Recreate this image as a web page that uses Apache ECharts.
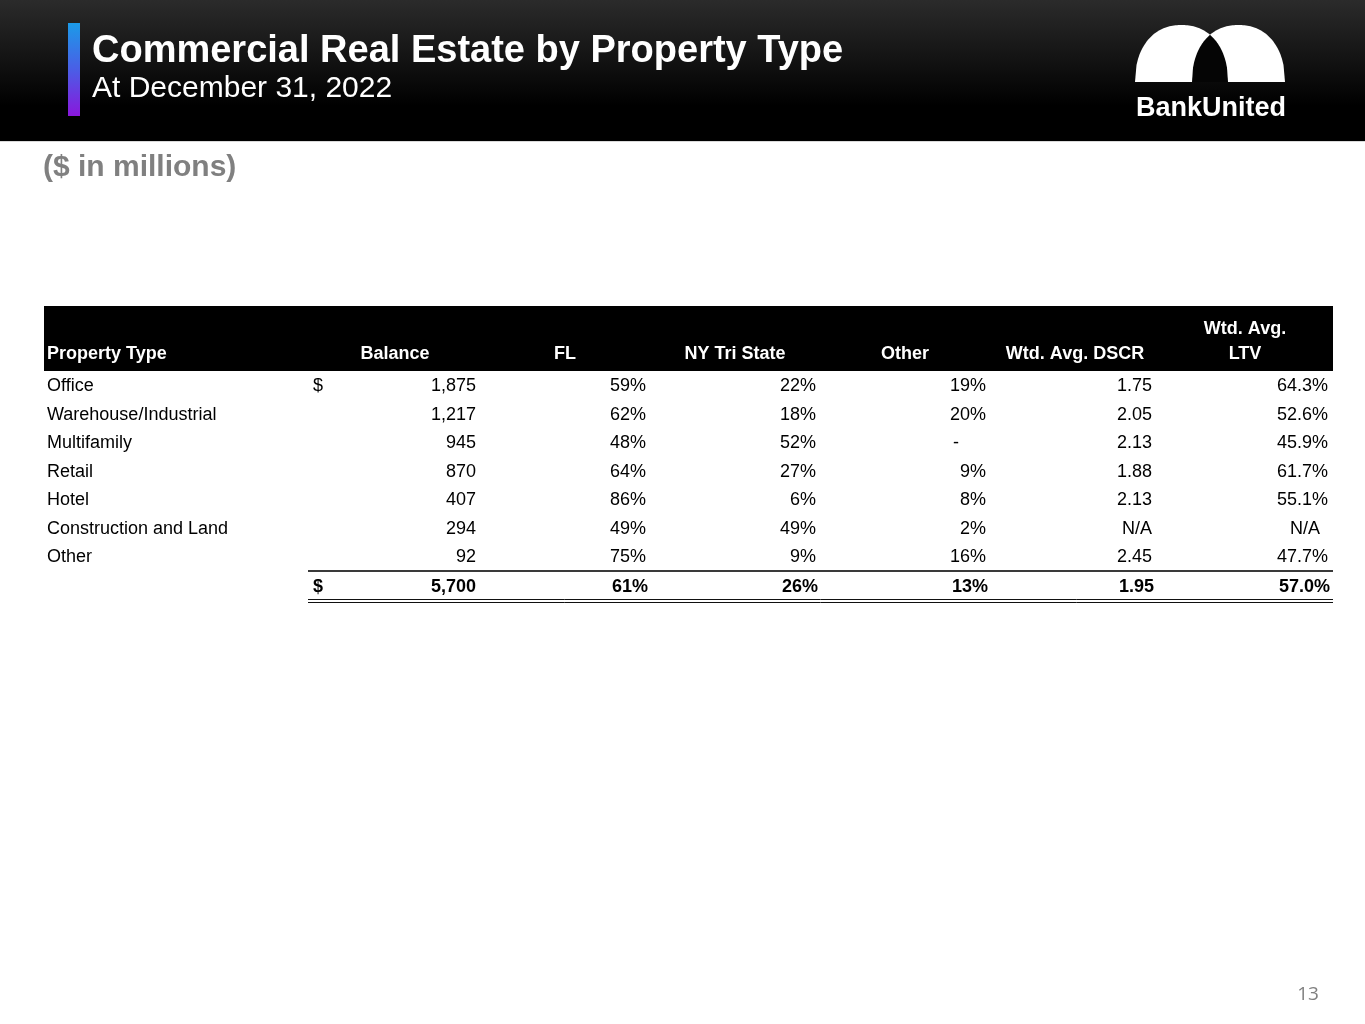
<!DOCTYPE html>
<html>
<head>
<meta charset="utf-8">
<title>Commercial Real Estate by Property Type</title>
<script src="https://cdn.jsdelivr.net/npm/echarts@6/dist/echarts.min.js"></script>
<style>
  html, body { margin: 0; padding: 0; background: #fff; }
  #container { width: 1365px; height: 1024px; }
</style>
</head>
<body>
<div id="container"></div>
<script>
// table data ($ in millions)
var propertyTypes = ['Office', 'Warehouse/Industrial', 'Multifamily', 'Retail', 'Hotel', 'Construction and Land', 'Other'];
var columnNames = ['Balance', 'FL', 'NY Tri State', 'Other', 'Wtd. Avg. DSCR', 'Wtd. Avg.\nLTV'];
var balance = [1875, 1217, 945, 870, 407, 294, 92];
var flPct = [59, 62, 48, 64, 86, 49, 75];
var nyPct = [22, 18, 52, 27, 6, 49, 9];
var otherPct = [19, 20, null, 9, 8, 2, 16];
var dscr = [1.75, 2.05, 2.13, 1.88, 2.13, null, 2.45];
var ltv = [64.3, 52.6, 45.9, 61.7, 55.1, null, 47.7];
var totals = [5700, 61, 26, 13, 1.95, 57.0];

var FONT = 'Liberation Sans, Arial, sans-serif';

function fmtMoney(v) { return v.toString().replace(/\B(?=(\d{3})+(?!\d))/g, ','); }
function fmtPct(v) { return v == null ? '-' : v + '%'; }
function fmtRatio(v) { return v == null ? 'N/A' : v.toFixed(2); }
function fmtLtv(v) { return v == null ? 'N/A' : v.toFixed(1) + '%'; }

// small right-edge nudges per column (accounting format spacing)
var colPad = [0, 0, 0, 0, 4, -2];

// build cells: [col, row]
var cells = [];
var columns = [
    {vals: balance, fmt: fmtMoney},
    {vals: flPct, fmt: fmtPct},
    {vals: nyPct, fmt: fmtPct},
    {vals: otherPct, fmt: fmtPct},
    {vals: dscr, fmt: fmtRatio},
    {vals: ltv, fmt: fmtLtv}
];
// property type names, left of the numeric columns
for (var p = 0; p < propertyTypes.length; p++) {
    cells.push({value: [0, p], text: propertyTypes[p], bold: false, name: true, dy: 1});
}
for (var c = 0; c < columns.length; c++) {
    for (var r = 0; r < propertyTypes.length; r++) {
        var v = columns[c].vals[r];
        var txt = columns[c].fmt(v);
        var pad = colPad[c];
        if (txt === '-') pad = 27;
        if (txt === 'N/A' && c === 5) pad = 6;
        cells.push({value: [c, r], text: txt, bold: false, pad: pad, dy: 1});
    }
}
var totalFmt = [fmtMoney, fmtPct, fmtPct, fmtPct, fmtRatio, fmtLtv];
for (var t = 0; t < totals.length; t++) {
    var tt = totals[t];
    var s = t === 5 ? tt.toFixed(1) + '%' : totalFmt[t](tt);
    cells.push({value: [t, propertyTypes.length], text: s, bold: true, pad: colPad[t] + (t === 0 ? 0 : -2), dy: 2});
}
// dollar signs
cells.push({value: [0, 0], text: '$', bold: false, dollar: true, dy: 1});
cells.push({value: [0, propertyTypes.length], text: '$', bold: true, dollar: true, dy: 2});

// logo shapes
function domeY(x, cx) {
    var rx = 46.5, ry = 57, n = 2.2;
    var u = Math.min(1, Math.abs(x - cx) / rx);
    return 82 - ry * Math.pow(1 - Math.pow(u, n), 1 / n);
}
function domePoints(cx) {
    var pts = [];
    for (var x = cx - 46.5; x <= cx + 46.5 + 0.01; x += 1.5) pts.push([x, domeY(x, cx)]);
    pts.push([cx + 46.5, 82]);
    pts.push([cx - 46.5, 82]);
    return pts;
}
var leftC = 1181.5, rightC = 1238.5;
var lens = [];
var mid = (leftC + rightC) / 2;
for (var x = rightC - 46.5; x <= mid; x += 1) lens.push([x, domeY(x, rightC)]);
for (var x2 = mid; x2 <= leftC + 46.5; x2 += 1) lens.push([x2, domeY(x2, leftC)]);
lens.push([leftC + 46.5, 82]);
lens.push([rightC - 46.5, 82]);

var myChart = echarts.init(document.getElementById('container'));

var option = {
    backgroundColor: '#ffffff',
    animation: false,
    textStyle: {fontFamily: FONT},
    grid: {left: 306, right: 39, top: 371, height: 228, containLabel: false},
    xAxis: {
        type: 'category',
        position: 'top',
        data: columnNames,
        axisLine: {show: false},
        axisTick: {show: false},
        splitLine: {show: false},
        axisLabel: {
            interval: 0,
            color: '#ffffff',
            fontFamily: FONT,
            fontWeight: 'bold',
            fontSize: 18,
            lineHeight: 25,
            margin: 4,
            padding: [0, 0, 0, 8]
        }
    },
    yAxis: {
        type: 'category',
        inverse: true,
        data: propertyTypes.concat(['']),
        axisLine: {show: false},
        axisTick: {show: false},
        splitLine: {show: false},
        axisLabel: {show: false}
    },
    series: [{
        type: 'custom',
        coordinateSystem: 'cartesian2d',
        data: cells,
        silent: true,
        renderItem: function (params, api) {
            var cell = cells[params.dataIndex];
            var pt = api.coord([api.value(0), api.value(1)]);
            var size = api.size([1, 1]);
            var x, align = 'left';
            if (cell.name) {
                x = pt[0] - size[0] / 2 - 259;
            } else if (cell.dollar) {
                x = pt[0] - size[0] / 2 + 7;
            } else {
                x = pt[0] + size[0] / 2 - cell.pad;
                align = 'right';
            }
            return {
                type: 'text',
                x: x,
                y: pt[1] + cell.dy,
                style: {
                    text: cell.text,
                    fill: '#000000',
                    fontFamily: FONT,
                    fontSize: 18,
                    fontWeight: cell.bold ? 'bold' : 'normal',
                    align: align,
                    verticalAlign: 'middle'
                }
            };
        }
    }],
    graphic: [
        // header band
        {type: 'rect', z: -2, shape: {x: 0, y: 0, width: 1365, height: 141},
            style: {fill: new echarts.graphic.LinearGradient(0, 0, 0, 1, [
                {offset: 0, color: '#2b2b2b'}, {offset: 0.75, color: '#000000'}, {offset: 1, color: '#000000'}])}},
        {type: 'rect', z: -2, shape: {x: 0, y: 141, width: 1365, height: 1}, style: {fill: '#d9d9d9'}},
        {type: 'rect', shape: {x: 68, y: 23, width: 12, height: 93},
            style: {fill: new echarts.graphic.LinearGradient(0, 0, 0, 1, [
                {offset: 0, color: '#1b9be8'}, {offset: 0.5, color: '#4a5ee6'}, {offset: 1, color: '#8a17dc'}])}},
        {type: 'text', x: 92, y: 52, style: {text: 'Commercial Real Estate by Property Type', fill: '#ffffff',
            fontFamily: FONT, fontWeight: 'bold', fontSize: 38, verticalAlign: 'middle'}},
        {type: 'text', x: 92, y: 89, style: {text: 'At December 31, 2022', fill: '#ffffff',
            fontFamily: FONT, fontSize: 30, verticalAlign: 'middle'}},
        // logo
        {type: 'polygon', shape: {points: domePoints(leftC)}, style: {fill: '#ffffff'}},
        {type: 'polygon', shape: {points: domePoints(rightC)}, style: {fill: '#ffffff'}},
        {type: 'polygon', shape: {points: lens}, style: {fill: '#050505'}},
        {type: 'text', x: 1211, y: 109, style: {text: 'BankUnited', fill: '#ffffff',
            fontFamily: FONT, fontWeight: 'bold', fontSize: 27, align: 'center', verticalAlign: 'middle'}},
        // units
        {type: 'text', x: 43, y: 168, style: {text: '($ in millions)', fill: '#808080',
            fontFamily: FONT, fontWeight: 'bold', fontSize: 30, verticalAlign: 'middle'}},
        // table header
        {type: 'rect', z: -1, shape: {x: 44, y: 306, width: 1289, height: 65}, style: {fill: '#000000'}},
        {type: 'text', x: 47, y: 354, style: {text: 'Property Type', fill: '#ffffff',
            fontFamily: FONT, fontWeight: 'bold', fontSize: 18, verticalAlign: 'middle'}},
        // total rules
        {type: 'line', shape: {x1: 308, y1: 571, x2: 1333, y2: 571}, style: {stroke: '#3a3a3a', lineWidth: 2}},
        {type: 'line', shape: {x1: 308, y1: 599.5, x2: 1333, y2: 599.5}, style: {stroke: '#111111', lineWidth: 1}},
        {type: 'line', shape: {x1: 308, y1: 602.5, x2: 1333, y2: 602.5}, style: {stroke: '#111111', lineWidth: 1}},
        // page number
        {type: 'text', x: 1308, y: 995, style: {text: '13', fill: '#7f7f7f',
            fontFamily: 'Open Sans, Liberation Sans, sans-serif', fontSize: 19, align: 'center', verticalAlign: 'middle'}}
    ]
};

myChart.setOption(option);
</script>
</body>
</html>
